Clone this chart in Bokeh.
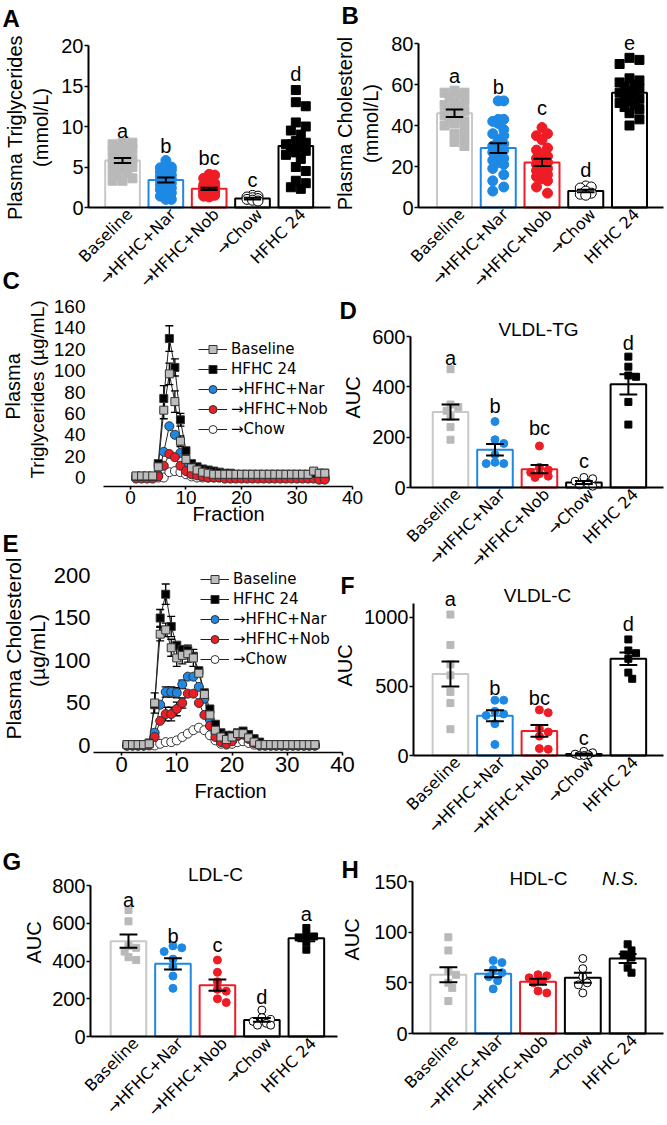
import numpy as np
from math import pi
from bokeh.plotting import figure
from bokeh.models import Range1d, FixedTicker, Label, Legend, LegendItem, ColumnDataSource
from bokeh.layouts import column, row
from bokeh.embed import file_html
from bokeh.resources import INLINE

FONT = "Liberation Sans"
CAT_FONT = "DejaVu Sans"   # has a proper black arrow glyph

GROUPS = ["Baseline", "→HFHC+Nar", "→HFHC+Nob", "→Chow", "HFHC 24"]

# ---------------- Panel A: plasma triglycerides (mmol/L) ----------------
A_means = [5.8, 3.4, 2.3, 1.1, 7.6]
A_sems = [0.3, 0.3, 0.15, 0.1, 0.7]
A_baseline = [8.0, 8.0, 7.8, 7.6, 7.5, 7.2, 7.0, 6.8, 6.5, 6.2, 6.0, 5.8, 5.6, 5.4, 5.2, 5.0, 4.8, 4.5, 4.3, 4.0, 3.6, 3.3, 3.3]
A_nar = [5.8, 5.0, 4.9, 4.8, 4.6, 4.4, 4.2, 4.0, 3.8, 3.6, 3.5, 3.4, 3.2, 3.0, 2.8, 2.6, 2.4, 2.2, 2.0, 1.8, 1.4, 1.0, 1.0]
A_nob = [4.1, 4.0, 3.6, 3.3, 3.0, 2.8, 2.7, 2.6, 2.5, 2.4, 2.3, 2.2, 2.1, 2.0, 2.0, 1.9, 1.8, 1.7, 1.6, 1.5, 1.4, 1.3]
A_chow = [1.5, 1.4, 1.3, 1.2, 1.1, 1.0, 0.9, 0.8]
A_hfhc = [14.5, 13.0, 12.5, 10.5, 10.0, 9.5, 9.0, 8.2, 8.0, 7.8, 7.5, 7.2, 7.0, 6.8, 6.5, 6.0, 5.0, 4.5, 3.3, 3.0, 2.5, 2.3]
A_letters = ["a", "b", "bc", "c", "d"]
A_letter_y = [8.7, 6.8, 5.4, 2.7, 15.75]

# ---------------- Panel B: plasma cholesterol (mmol/L) ----------------
B_means = [46, 29, 22, 8, 56]
B_sems = [1.8, 2.4, 1.8, 0.6, 1.6]
B_baseline = [57, 56, 56, 55, 54, 52, 51, 50, 49, 48, 47, 46, 45, 44, 43, 42, 41, 40, 38, 36, 34, 32, 30]
B_nar = [52, 52, 43, 43, 42, 41, 38, 36, 35, 33, 31, 30, 29, 28, 27, 25, 24, 23, 22, 21, 19, 16, 13, 10, 8]
B_nob = [39, 36, 35, 33, 29, 28, 26, 25, 24, 23, 22, 21, 20, 19, 18, 17, 16, 15, 14, 13, 10, 7]
B_chow = [10.5, 10, 9.5, 8, 7, 6.5, 6]
B_hfhc = [73, 72, 70, 63, 62, 61, 60, 59, 58, 57, 56, 55, 54, 53, 52, 51, 50, 49, 48, 46, 43, 40]
B_letters = ["a", "b", "c", "d", "e"]
B_letter_y = [61, 56, 45.5, 15.5, 77.5]

# ---------------- Panel C: TG FPLC profile (ug/mL) ----------------
fractions = list(range(1, 36))
C_baseline = [1.5, 1.5, 1.5, 1.5, 10, 63, 97, 71, 34, 17, 9, 7, 5, 4, 3, 3, 3, 3, 3, 3, 3, 3, 3, 3, 3, 3, 3, 3, 3, 3, 3, 3, 6, 4, 4]
C_hfhc = [1, 1, 1, 1, 13, 74, 130, 103, 54, 25, 13, 10, 8, 7, 6, 5, 4, 4, 3, 3, 3, 3, 3, 3, 3, 3, 3, 3, 3, 3, 3, 3, 4, 4, 4]
C_nar = [0, 0, 0, 0, 2, 24, 48, 40, 23, 10, 5, 3, 2, 2, 1, 1, 1, 1, 1, 1, 1, 1, 1, 0, 0, 0, 0, 0, 0, 0, 0, 0, 0, -1, -1]
C_nob = [-1, -1, -1, -1, 1, 11, 22, 19, 11, 6, 3, 2, 1, 0, 0, 0, -1, -1, -1, -1, -1, -1, -1, -1, -1, -1, -1, -1, -1, -1, -1, -1, -1, -2, -2]
C_chow = [0, 0, 0, 0, 0, 0, 5, 6, 5, 3, 1, 0, 0, 0, 0, 0, 0, 0, 0, 0, 0, 0, 0, 0, 0, 0, 0, 0, 0, 0, 0, 0, 0, 0, 0]
C_baseline_sem = [0, 0, 0, 0, 0, 8, 10, 10, 5, 0, 0, 0, 0, 0, 0, 0, 0, 0, 0, 0, 0, 0, 0, 0, 0, 0, 0, 0, 0, 0, 0, 0, 0, 0, 0]
C_hfhc_sem = [0, 0, 0, 0, 0, 12, 12, 8, 6, 0, 0, 0, 0, 0, 0, 0, 0, 0, 0, 0, 0, 0, 0, 0, 0, 0, 0, 0, 0, 0, 0, 0, 0, 0, 0]

# ---------------- Panel D: VLDL-TG AUC ----------------
D_means = [300, 150, 73, 20, 410]
D_sems = [30, 23, 16, 6, 40]
D_baseline = [470, 330, 320, 305, 280, 240, 190]
D_nar = [262, 190, 175, 130, 100, 95, 95]
D_nob = [165, 80, 70, 60, 55, 45, 40]
D_chow = [40, 35, 25, 15, 10, 5]
D_hfhc = [520, 480, 445, 440, 340, 250]
D_letters = ["a", "b", "bc", "c", "d"]
D_letter_y = [491, 299, 212, 80, 551]

# ---------------- Panel E: cholesterol FPLC profile (ug/mL) ----------------
E_baseline = [1, 1, 1, 1, 2, 50, 131, 136, 115, 103, 106, 108, 103, 85, 60, 36, 18, 10, 7, 10, 14, 14, 9, 4, 1, 1, 1, 1, 1, 1, 1, 1, 1, 1, 1]
E_hfhc = [1, 1, 1, 1, 3, 48, 150, 178, 140, 118, 113, 112, 105, 88, 62, 43, 25, 15, 12, 12, 15, 17, 13, 8, 4, 1, 1, 1, 1, 1, 1, 1, 1, 1, 1]
E_nar = [0, 0, 0, 0, 1, 15, 48, 63, 63, 62, 72, 81, 81, 69, 55, 30, 15, 7, 4, 6, 11, 13, 8, 3, 0, 0, 0, 0, 0, 0, 0, 0, 0, 0, 0]
E_nob = [0, 0, 0, 0, 1, 10, 29, 37, 37, 43, 50, 61, 61, 50, 36, 23, 10, 4, 2, 5, 12, 13, 8, 3, 0, 0, 0, 0, 0, 0, 0, 0, 0, 0, 0]
E_chow = [0, 0, 0, 0, 0, 0, 2, 4, 4, 6, 10, 14, 18, 21, 18, 12, 6, 2, 1, 2, 4, 5, 3, 1, 0, 0, 0, 0, 0, 0, 0, 0, 0, 0, 0]
E_baseline_sem = [0, 0, 0, 0, 0, 12, 8, 8, 10, 10, 10, 10, 10, 0, 0, 0, 0, 0, 0, 0, 0, 0, 0, 0, 0, 0, 0, 0, 0, 0, 0, 0, 0, 0, 0]
E_hfhc_sem = [0, 0, 0, 0, 0, 0, 10, 12, 12, 0, 0, 0, 0, 0, 0, 0, 0, 0, 0, 0, 0, 0, 0, 0, 0, 0, 0, 0, 0, 0, 0, 0, 0, 0, 0]
E_nar_sem = [0, 0, 0, 0, 0, 0, 0, 6, 6, 6, 5, 0, 0, 0, 0, 0, 0, 0, 0, 0, 0, 0, 0, 0, 0, 0, 0, 0, 0, 0, 0, 0, 0, 0, 0]
E_nob_sem = [0, 0, 0, 0, 0, 0, 0, 8, 8, 8, 6, 0, 0, 0, 0, 0, 0, 0, 0, 0, 0, 0, 0, 0, 0, 0, 0, 0, 0, 0, 0, 0, 0, 0, 0]

# ---------------- Panel F: VLDL-C AUC ----------------
F_means = [590, 288, 178, 10, 700]
F_sems = [90, 40, 42, 5, 45]
F_baseline = [1020, 800, 660, 580, 460, 380, 190]
F_nar = [400, 400, 320, 300, 290, 230, 80]
F_nob = [330, 310, 195, 170, 140, 50, 45]
F_chow = [30, 20, 10, 5, 0, 0]
F_hfhc = [840, 760, 740, 700, 600, 555]
F_letters = ["a", "b", "bc", "c", "d"]
F_letter_y = [1088, 448, 375, 80, 908]

# ---------------- Panel G: LDL-C AUC ----------------
G_means = [505, 385, 272, 88, 520]
G_sems = [35, 30, 30, 10, 15]
G_baseline = [670, 610, 480, 470, 450, 420, 405]
G_nar = [480, 470, 450, 410, 370, 320, 255]
G_nob = [405, 340, 290, 250, 240, 200, 180]
G_chow = [140, 100, 90, 80, 70, 60, 60]
G_hfhc = [575, 540, 530, 525, 500, 460]
G_letters = ["a", "b", "c", "d", "a"]
G_letter_y = [694, 499, 455, 180, 619]

# ---------------- Panel H: HDL-C AUC ----------------
H_means = [58, 59, 51, 55, 74]
H_sems = [7.5, 3.5, 3, 5, 4.5]
H_baseline = [95, 82, 62, 58, 50, 45, 32]
H_nar = [72, 70, 63, 60, 56, 52, 44]
H_nob = [58, 57, 55, 52, 50, 42, 40]
H_chow = [74, 64, 56, 50, 48, 40]
H_hfhc = [88, 82, 78, 75, 65, 60]

# ---------------- styles ----------------
GRAY = "#b9b9b9"
BLUE = "#1e88e5"
RED = "#ee1c25"
STYLE = [
    dict(marker="square", fill=GRAY, line=GRAY, bar="#c8c8c8"),
    dict(marker="circle", fill=BLUE, line=BLUE, bar=BLUE),
    dict(marker="circle", fill=RED, line=RED, bar=RED),
    dict(marker="circle", fill="white", line="black", bar="black"),
    dict(marker="square", fill="black", line="black", bar="black"),
]
BASE_SHIFT = 0.3   # measured text baseline correction (fraction of font size)


class Geo:
    def __init__(self, box, frame, xr, yr):
        self.box = box
        self.frame = frame
        self.ppu_y = (frame[3] - frame[1]) / (yr[1] - yr[0])
        self.ppu_x = (frame[2] - frame[0]) / (xr[1] - xr[0])
        self.yr = yr

    def s(self, X, Y):
        """reference page position -> screen offset from canvas bottom-left"""
        return X - self.box[0], self.box[3] - Y

    def sy_val(self, v):
        return (self.box[3] - self.frame[3]) + (v - self.yr[0]) * self.ppu_y


def make_fig(box, frame, xr, yr, tick_font="20px"):
    """Canvas == frame; the visible axes are drawn at fixed locations inside it."""
    L, T, R, B = box
    fl, ft, fr, fb = frame
    kx = (xr[1] - xr[0]) / (fr - fl)
    ky = (yr[1] - yr[0]) / (fb - ft)
    x0 = xr[0] - (fl - L) * kx
    x1 = xr[1] + (R - fr) * kx
    y0 = yr[0] - (B - fb) * ky
    y1 = yr[1] + (ft - T) * ky
    p = figure(width=R - L, height=B - T, x_range=Range1d(x0, x1), y_range=Range1d(y0, y1),
               min_border=0, min_border_left=0, min_border_right=0, min_border_top=0, min_border_bottom=0,
               output_backend="svg", toolbar_location=None)
    p.background_fill_color = None
    p.border_fill_color = None
    p.outline_line_color = None
    p.xgrid.visible = False
    p.ygrid.visible = False
    xa, ya = p.xaxis[0], p.yaxis[0]
    xa.fixed_location = yr[0]
    xa.bounds = (xr[0], xr[1])
    ya.fixed_location = xr[0]
    ya.bounds = (yr[0], yr[1])
    for ax in (xa, ya):
        ax.axis_line_color = "black"
        ax.axis_line_width = 1.6
        ax.major_tick_line_color = "black"
        ax.major_tick_line_width = 1.6
        ax.major_tick_out = 4
        ax.major_tick_in = 0
        ax.minor_tick_line_color = None
        ax.major_label_text_font = FONT
        ax.major_label_text_font_size = tick_font
        ax.major_label_text_color = "black"
    return p, Geo(box, frame, xr, yr)


def text_at(p, geo, X, Y, text, fs, align="left", style="normal"):
    """horizontal text with its alphabetic baseline at reference page position (X, Y)"""
    x, y = geo.s(X, Y)
    p.add_layout(Label(x=x, y=y + BASE_SHIFT * fs, x_units="screen", y_units="screen", text=text,
                       text_font=FONT, text_font_size=f"{fs}px", text_align=align,
                       text_baseline="alphabetic", text_font_style=style, text_color="black"))


def vtext_at(p, geo, X, Y, text, fs, shift=0.15):
    """vertical (bottom-to-top) text centred on reference page position (X, Y)"""
    x, y = geo.s(X, Y)
    p.add_layout(Label(x=x - shift * fs, y=y, x_units="screen", y_units="screen", text=text,
                       text_font=FONT, text_font_size=f"{fs}px", text_align="center",
                       text_baseline="middle", angle=pi / 2, text_color="black"))


def swarm(vals, ppu_y, ppu_x, size, maxhalf):
    vals = np.asarray(vals, float)
    order = np.argsort(-vals, kind="stable")
    step = size * 0.55
    cands = [0.0]
    k = 1
    while k * step <= maxhalf:
        cands += [k * step, -k * step]
        k += 1
    placed = []
    offs = np.zeros(len(vals))
    for i in order:
        y = vals[i] * ppu_y
        best, bestd = 0.0, -1.0
        for c in cands:
            d = min([np.hypot(c - px, y - py) for px, py in placed], default=1e9)
            if d >= size * 0.9:
                best, bestd = c, d
                break
            if d > bestd:
                best, bestd = c, d
        placed.append((best, y))
        offs[i] = best / ppu_x
    return offs


def bar_panel(box, frame, xr, yr, yticks, ylabel_lines, means, sems, pts, tag, tag_pos,
              letters=None, letters_y=None, title=None, title_pos=None, msz=(7, 8), tag_fs=24):
    p, geo = make_fig(box, frame, xr, yr)
    xs = list(range(5))
    src = ColumnDataSource(dict(x=xs, top=means, lc=[s["bar"] for s in STYLE]))
    p.vbar(x="x", top="top", width=0.8, bottom=0, source=src, fill_color="white",
           line_color="lc", line_width=2)
    for i, vals in enumerate(pts):
        st = STYLE[i]
        size = msz[0] if st["marker"] == "square" else msz[1]
        offs = swarm(vals, geo.ppu_y, geo.ppu_x, size, 0.36 * geo.ppu_x - size / 2)
        p.scatter(x=[i + o for o in offs], y=vals, marker=st["marker"], size=size,
                  fill_color=st["fill"], line_color=st["line"], line_width=1)
    lo = [m - s for m, s in zip(means, sems)]
    hi = [m + s for m, s in zip(means, sems)]
    p.segment(x0=xs, y0=lo, x1=xs, y1=hi, line_color="black", line_width=2)
    p.segment(x0=[x - 0.2 for x in xs], y0=hi, x1=[x + 0.2 for x in xs], y1=hi, line_color="black", line_width=2)
    p.segment(x0=[x - 0.2 for x in xs], y0=lo, x1=[x + 0.2 for x in xs], y1=lo, line_color="black", line_width=2)

    # category labels: rotated axis labels, anchored slightly right of each bar centre
    shift = 7 / geo.ppu_x
    tpos = [i + shift for i in xs]
    xa = p.xaxis[0]
    xa.ticker = FixedTicker(ticks=tpos)
    xa.major_label_overrides = {t: g for t, g in zip(tpos, GROUPS)}
    xa.major_label_orientation = pi / 4
    xa.major_label_text_font = CAT_FONT
    xa.major_label_text_font_size = "16px"
    xa.major_tick_line_color = None
    xa.major_tick_out = 0
    xa.major_label_standoff = 4
    xa.axis_line_width = 2
    ya = p.yaxis[0]
    ya.ticker = FixedTicker(ticks=yticks)
    ya.major_label_standoff = 1
    ya.axis_line_width = 2

    for t, cx, cy in ylabel_lines:
        vtext_at(p, geo, cx, cy, t, 20)
    if letters:
        for i, (t, ly) in enumerate(zip(letters, letters_y)):
            p.add_layout(Label(x=i, y=geo.sy_val(ly) + BASE_SHIFT * 20, x_units="data", y_units="screen",
                               text=t, text_font=FONT, text_font_size="20px", text_align="center",
                               text_baseline="alphabetic", text_color="black"))
    text_at(p, geo, tag_pos[0], tag_pos[1], tag, tag_fs, style="bold")
    if title:
        text_at(p, geo, title_pos[0], title_pos[1], title, 19, align="center")
    return p, geo


def line_panel(box, frame, xr, yr, ybounds, yticks, ylabel_lines, tick_sd, series, legend_box, xlabel_pos,
               tag=None, tag_pos=None, msz=(8, 9), tick_font="20px", ylab_font=20):
    p, geo = make_fig(box, frame, xr, yr, tick_font=tick_font)
    lines = {}
    for s in series:
        lines[s["name"]] = p.line(fractions, s["y"], line_color="#222222", line_width=1)
    for s in series:
        if s.get("sem") is None:
            continue
        idx = [i for i, e in enumerate(s["sem"]) if e > 0]
        xs = [fractions[i] for i in idx]
        lo = [s["y"][i] - s["sem"][i] for i in idx]
        hi = [s["y"][i] + s["sem"][i] for i in idx]
        p.segment(x0=xs, y0=lo, x1=xs, y1=hi, line_color="black", line_width=1.3)
        p.scatter(x=xs + xs, y=hi + lo, marker="dash", size=8, line_color="black", line_width=1.3)
    marks = {}
    for s in series:
        size = msz[0] if s["marker"] == "square" else msz[1]
        marks[s["name"]] = p.scatter(fractions, s["y"], marker=s["marker"], size=size,
                                     fill_color=s["fill"], line_color="#333333", line_width=1)
    order = ["Baseline", "HFHC 24", "→HFHC+Nar", "→HFHC+Nob", "→Chow"]
    items = [LegendItem(label=n, renderers=[lines[n], marks[n]]) for n in order]
    lx, ly = geo.s(legend_box[0], legend_box[1])
    leg = Legend(items=items, location=(lx, ly), background_fill_alpha=0, border_line_color=None,
                 padding=0, margin=0, spacing=0, glyph_width=29, glyph_height=20, label_height=20,
                 label_standoff=4, label_text_font=CAT_FONT, label_text_font_size="15px",
                 label_text_color="black", label_text_baseline="middle")
    p.add_layout(leg)

    xa = p.xaxis[0]
    xa.ticker = FixedTicker(ticks=[0, 10, 20, 30, 40])
    xa.major_tick_out = 3
    xa.major_label_standoff = 1
    ya = p.yaxis[0]
    ya.bounds = ybounds
    ya.ticker = FixedTicker(ticks=yticks)
    ya.axis_line_color = None
    ya.major_tick_line_color = None
    ya.major_tick_out = 0
    ya.major_label_standoff = tick_sd
    for t, cx, cy, fs in ylabel_lines:
        vtext_at(p, geo, cx, cy, t, fs, shift=0.0)
    text_at(p, geo, xlabel_pos[0], xlabel_pos[1], "Fraction", 20, align="center")
    if tag:
        text_at(p, geo, tag_pos[0], tag_pos[1], tag, 24, style="bold")
    return p, geo


# ---------------- build panels (reference pixel layout) ----------------
pA, gA = bar_panel((0, 0, 366, 293), (88, 45, 330, 207), (-0.785, 4.80), (0, 20), [0, 5, 10, 15, 20],
                   [("Plasma Triglycerides", 17, 127), ("(mmol/L)", 43, 127)], A_means, A_sems,
                   [A_baseline, A_nar, A_nob, A_chow, A_hfhc], "A", (2, 25),
                   letters=A_letters, letters_y=A_letter_y, msz=(9, 10))
# the "C" panel tag sits in the band above panel C, inside A's canvas
text_at(pA, gA, 2, 287, "C", 24, style="bold")

pB, gB = bar_panel((335, 0, 667, 293), (418, 43, 663, 207), (-0.823, 4.777), (0, 80), [0, 20, 40, 60, 80],
                   [("Plasma Cholesterol", 347, 123), ("(mmol/L)", 373, 123)], B_means, B_sems,
                   [B_baseline, B_nar, B_nob, B_chow, B_hfhc], "B", (341, 22),
                   letters=B_letters, letters_y=B_letter_y, msz=(9, 10))

C_series = [
    dict(name="→Chow", y=C_chow, marker="circle", fill="white"),
    dict(name="→HFHC+Nar", y=C_nar, marker="circle", fill=BLUE),
    dict(name="→HFHC+Nob", y=C_nob, marker="circle", fill=RED),
    dict(name="HFHC 24", y=C_hfhc, marker="square", fill="black", sem=C_hfhc_sem),
    dict(name="Baseline", y=C_baseline, marker="square", fill="#bdbdbd", sem=C_baseline_sem),
]
pC, gC = line_panel((0, 293, 366, 525), (103, 306, 352, 486), (-4.86, 40), (-8.4, 160), (0, 160),
                    [0, 20, 40, 60, 80, 100, 120, 140, 160],
                    [("Plasma", 12, 386, 20), ("Triglycerides (µg/mL)", 37, 389, 19)], 18,
                    C_series, (198, 439), (228, 519), tick_font="19px")

pD, gD = bar_panel((335, 293, 667, 572), (410, 336, 663, 487), (-0.9, 4.79), (0, 600), [0, 200, 400, 600],
                   [("AUC", 355, 397)], D_means, D_sems,
                   [D_baseline, D_nar, D_nob, D_chow, D_hfhc], "D", (339, 317),
                   letters=D_letters, letters_y=D_letter_y, title="VLDL-TG", title_pos=(538, 335))

E_series = [
    dict(name="→Chow", y=E_chow, marker="circle", fill="white"),
    dict(name="→HFHC+Nar", y=E_nar, marker="circle", fill=BLUE, sem=E_nar_sem),
    dict(name="→HFHC+Nob", y=E_nob, marker="circle", fill=RED, sem=E_nob_sem),
    dict(name="HFHC 24", y=E_hfhc, marker="square", fill="black", sem=E_hfhc_sem),
    dict(name="Baseline", y=E_baseline, marker="square", fill="#bdbdbd", sem=E_baseline_sem),
]
pE, gE = line_panel((0, 525, 366, 800), (93, 575, 342, 752), (-5.07, 40), (-8.24, 200), (0, 200),
                    [0, 50, 100, 150, 200],
                    [("Plasma Cholesterol", 13, 648, 21), ("(µg/mL)", 37, 650, 21)], 3,
                    E_series, (200, 669), (230, 796), "E", (2, 550),
                    tick_font="22px")

pF, gF = bar_panel((335, 572, 667, 840), (413, 603, 663, 755), (-0.83, 4.79), (0, 1100), [0, 500, 1000],
                   [("AUC", 347, 665)], F_means, F_sems,
                   [F_baseline, F_nar, F_nob, F_chow, F_hfhc], "F", (340, 592),
                   letters=F_letters, letters_y=F_letter_y, title="VLDL-C", title_pos=(537, 601), tag_fs=23)

pG, gG = bar_panel((0, 800, 366, 1125), (90, 885, 337, 1036), (-0.854, 4.70), (0, 800), [0, 200, 400, 600, 800],
                   [("AUC", 36, 942)], G_means, G_sems,
                   [G_baseline, G_nar, G_nob, G_chow, G_hfhc], "G", (2, 868),
                   letters=G_letters, letters_y=G_letter_y, title="LDL-C", title_pos=(215, 880))

pH, gH = bar_panel((335, 840, 667, 1125), (412, 881, 663, 1033), (-0.8, 4.8), (0, 150), [0, 50, 100, 150],
                   [("AUC", 354, 939)], H_means, H_sems,
                   [H_baseline, H_nar, H_nob, H_chow, H_hfhc], "H", (341, 876),
                   title="HDL-C", title_pos=(538, 884))
text_at(pH, gH, 620, 884, "N.S.", 19, align="center", style="italic")

left = column(pA, pC, pE, pG, spacing=0)
right = column(pB, pD, pF, pH, spacing=0)
right.margin = (0, 0, 0, 335 - 366)
layout = row(left, right, spacing=0)

open("out.html", "w").write(file_html(layout, INLINE))
